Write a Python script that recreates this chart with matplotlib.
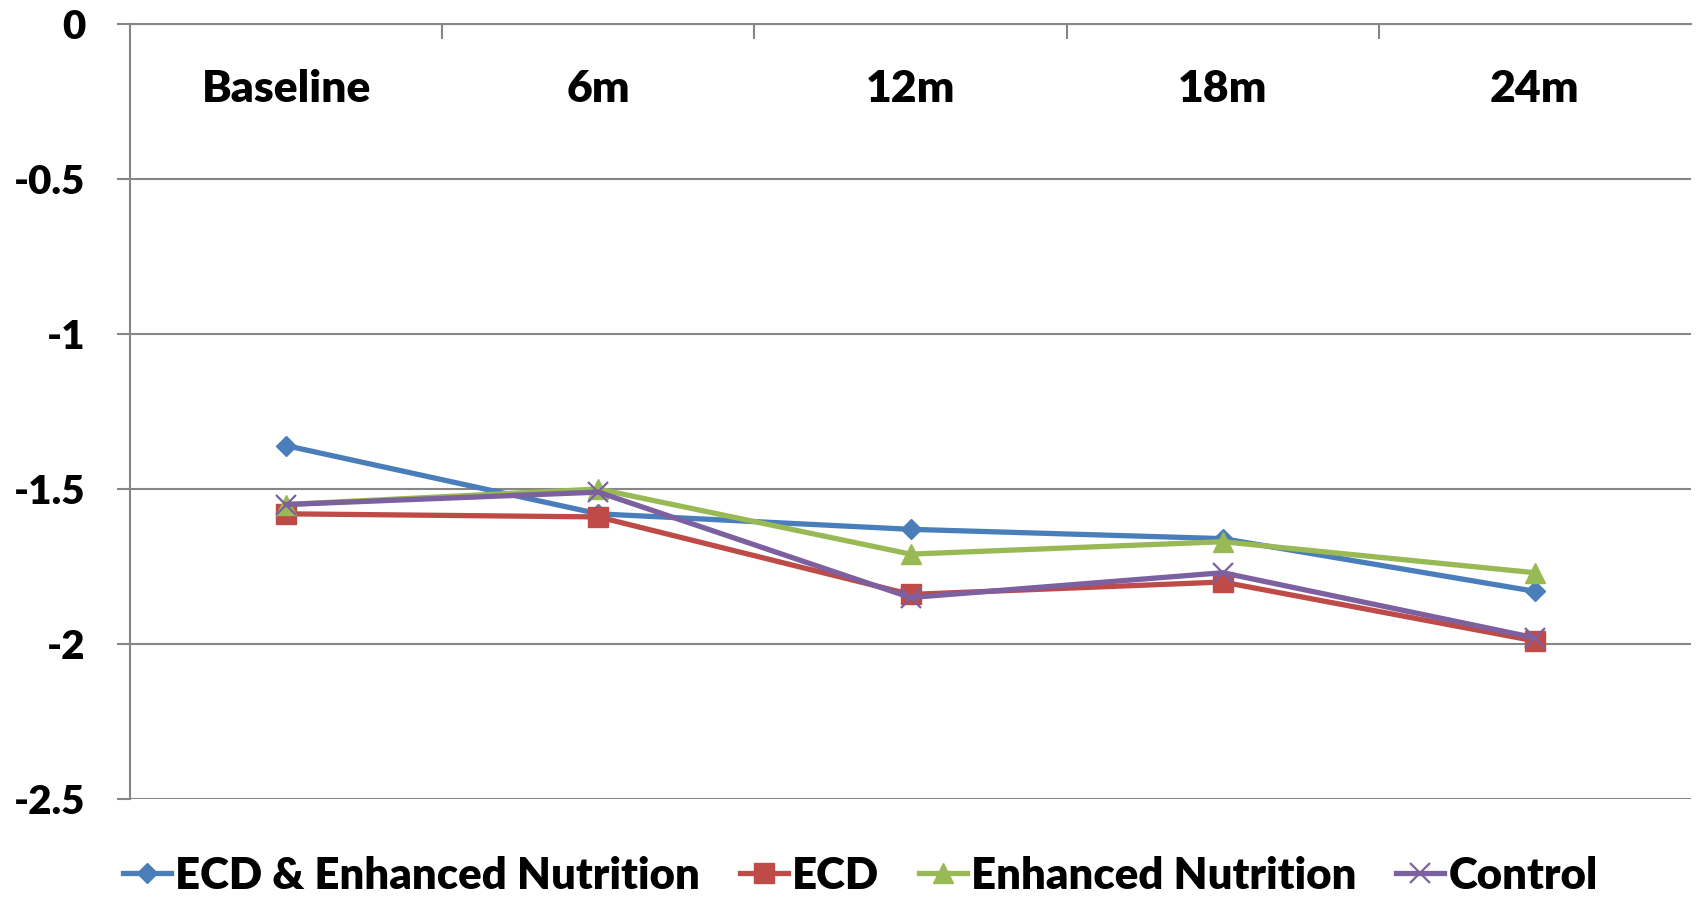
import matplotlib.pyplot as plt

plt.rcParams['font.family'] = ['Lato', 'DejaVu Sans']
plt.rcParams['font.weight'] = 'heavy'

# data
periods = ['Baseline', '6m', '12m', '18m', '24m']
ecd_nutrition = [-1.36, -1.58, -1.63, -1.66, -1.83]
ecd = [-1.58, -1.59, -1.84, -1.80, -1.99]
nutrition = [-1.55, -1.50, -1.71, -1.67, -1.77]
control = [-1.55, -1.51, -1.85, -1.77, -1.98]
y_ticks = [0, -0.5, -1, -1.5, -2, -2.5]
y_labels = ['0', '-0.5', '-1', '-1.5', '-2', '-2.5']

fig = plt.figure(figsize=(17, 8.99), dpi=100)
ax = fig.add_axes([0.0765, 0.1112, 0.9182, 0.8621])

x = list(range(len(periods)))
ax.plot(x, ecd_nutrition, color='#4A7EBB', lw=3.8, marker='D', ms=10, label='ECD & Enhanced Nutrition')
ax.plot(x, ecd, color='#BE4B48', lw=3.8, marker='s', ms=14, label='ECD')
ax.plot(x, nutrition, color='#98B954', lw=3.8, marker='^', ms=15, label='Enhanced Nutrition')
ax.plot(x, control, color='#7D60A0', lw=3.8, marker='x', ms=14, mew=1.6, label='Control')

ax.set_xlim(-0.5, 4.5)
ax.set_ylim(-2.5, 0)

grid_c = '#868686'
ax.set_yticks(y_ticks)
ax.set_yticklabels(y_labels, fontsize=29)
ax.yaxis.grid(True, color=grid_c, lw=1.5)
ax.set_axisbelow(True)
ax.tick_params(axis='y', length=9.4, width=1.5, color=grid_c, pad=23)

ax.xaxis.tick_top()
ax.set_xticks(x)
ax.set_xticklabels(periods, fontsize=32, va='center')
ax.set_xticks([0.5, 1.5, 2.5, 3.5], minor=True)
ax.tick_params(axis='x', which='major', length=0, pad=-47)
ax.tick_params(axis='x', which='minor', direction='in', length=11, width=1.5, color=grid_c)

for s in ['bottom', 'right']:
    ax.spines[s].set_visible(False)
for s in ['top', 'left']:
    ax.spines[s].set_color(grid_c)
    ax.spines[s].set_linewidth(1.5)

fig.legend(loc='center', bbox_to_anchor=(0.506, 0.026), ncol=4, frameon=False,
           fontsize=31.5, handlelength=1.1, handletextpad=0.1, columnspacing=0.9)

plt.savefig('out.png')
